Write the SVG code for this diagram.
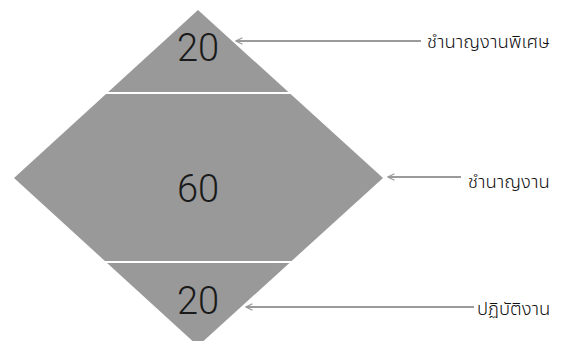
<svg xmlns="http://www.w3.org/2000/svg" width="565" height="341" viewBox="0 0 565 341">
<defs>
<style>
.num{font-family:"Roboto","Liberation Sans",Arial,sans-serif;font-weight:300;font-size:38px;fill:#1a1a1a;text-anchor:middle}
.lbl{font-family:"Noto Sans Thai","Noto Sans","DejaVu Sans",sans-serif;font-weight:300;font-size:18.5px;fill:#111}
.arr{stroke:#9a9a9a;stroke-width:2;fill:none;marker-end:url(#ah)}
.sep{stroke:#ffffff;stroke-width:2}
</style>
<marker id="ah" viewBox="0 0 10 10" refX="9" refY="5" markerWidth="8" markerHeight="8" markerUnits="userSpaceOnUse" orient="auto">
<path d="M1,1 L9,5 L1,9" fill="none" stroke="#9a9a9a" stroke-width="1.6"/>
</marker>
</defs>
<rect width="565" height="341" fill="#ffffff"/>
<g id="pyramid">
<polygon points="198,10 383,178 198,346 14,178" fill="#999999"/>
<line class="sep" x1="100" y1="93" x2="296" y2="93"/>
<line class="sep" x1="100" y1="262" x2="296" y2="262"/>
</g>
<g id="top"><text class="num" x="198" y="61">20</text></g>
<g id="middle"><text class="num" x="198" y="202">60</text></g>
<g id="bottom"><text class="num" x="198" y="314">20</text></g>
<g id="connectors">
<line class="arr" x1="421" y1="41" x2="236" y2="41"/>
<line class="arr" x1="461" y1="177" x2="388" y2="177"/>
<line class="arr" x1="474" y1="307" x2="246" y2="307"/>
</g>
<g id="label-top"><text class="lbl" x="427" y="48">ชำนาญงานพิเศษ</text></g>
<g id="label-middle"><text class="lbl" x="468" y="188">ชำนาญงาน</text></g>
<g id="label-bottom"><text class="lbl" x="477" y="315">ปฏิบัติงาน</text></g>
</svg>
